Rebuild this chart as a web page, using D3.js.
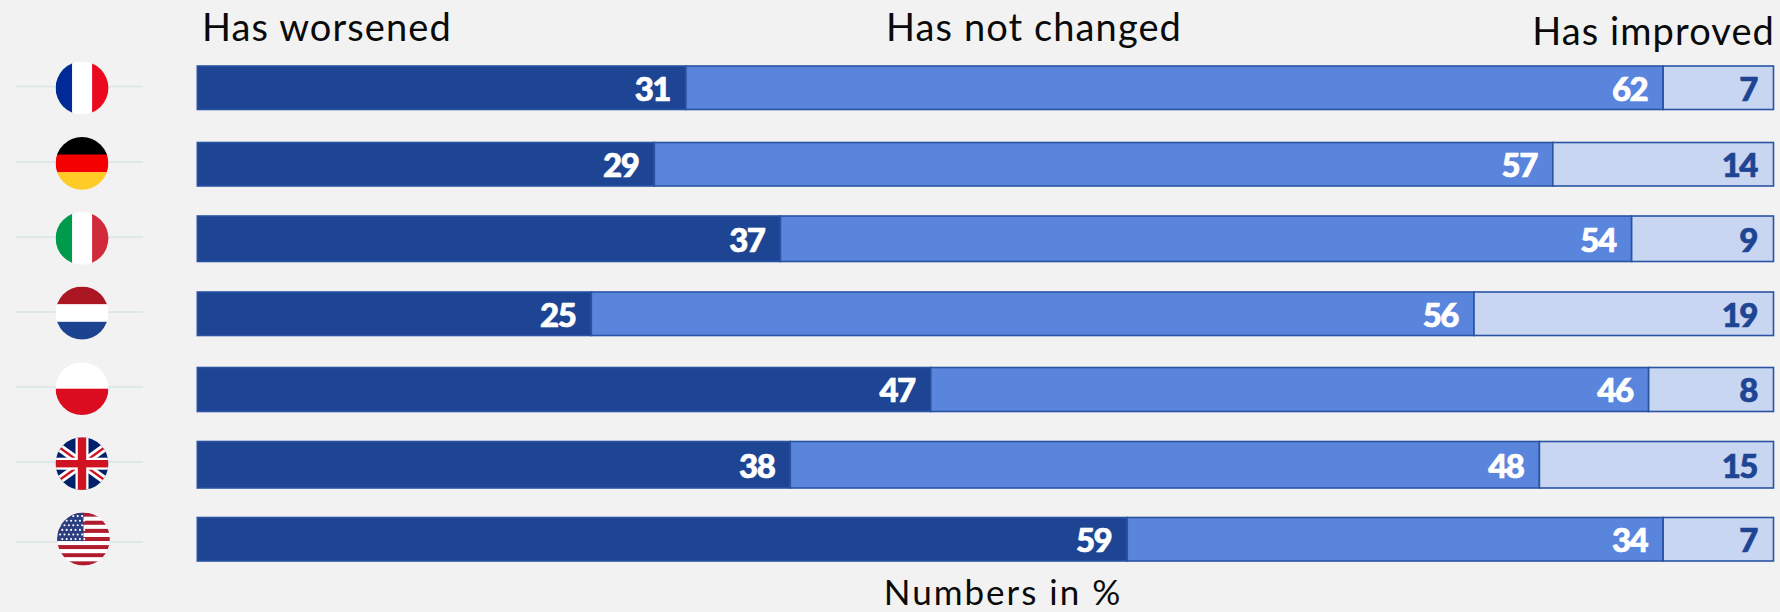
<!DOCTYPE html>
<html><head><meta charset="utf-8">
<style>html,body{margin:0;padding:0;background:#f2f2f2}svg{display:block}</style>
<script src="https://cdn.jsdelivr.net/npm/d3@7"></script></head>
<body><svg id="c" width="1780" height="612"></svg>
<script>
const countries=["France","Germany","Italy","Netherlands","Poland","United Kingdom","United States"];
const seriesNames=["Has worsened","Has not changed","Has improved"];
const worsened=[31,29,37,25,47,38,59];
const unchanged=[62,57,54,56,46,48,34];
const improved=[7,14,9,19,8,15,7];
const footnote="Numbers in %";
const fills=["#1e4593","#5a85dc","#c8d6f2"];
const labelFill=["#fff","#fff","#1e4593"];

const svg=d3.select("#c");
const rows=countries.map((c,i)=>({country:c,[seriesNames[0]]:worsened[i],[seriesNames[1]]:unchanged[i],[seriesNames[2]]:improved[i]}));
const stack=d3.stack().keys(seriesNames).offset(d3.stackOffsetExpand)(rows);
const x=d3.scaleLinear().domain([0,1]).range([197.3,1773.5]);
const yTop=d3.scaleOrdinal(countries,[66,142.5,216,292,367.5,441.5,517.5]);
const barH=d3.scaleOrdinal(countries,[43.5,43.5,45.5,43.5,44,46.5,43.5]);
const mid=c=>yTop(c)+barH(c)/2;
const fontBody='Lato, "Noto Sans", sans-serif';

// bars
stack.forEach((s,si)=>{
  const g=svg.append("g");
  g.selectAll("rect").data(s).join("rect")
   .attr("x",d=>x(d[0])).attr("y",d=>yTop(d.data.country))
   .attr("width",d=>x(d[1])-x(d[0])).attr("height",d=>barH(d.data.country))
   .attr("fill",fills[si]).attr("stroke","#2a53a4").attr("stroke-width",1.6);
  g.selectAll("text").data(s).join("text")
   .attr("x",d=>x(d[1])-(si===2?16.5:16)).attr("y",d=>mid(d.data.country)+1)
   .attr("dy","0.36em").attr("text-anchor","end")
   .attr("font-family",fontBody).attr("font-weight",900).attr("font-size",33)
   .attr("letter-spacing",-1.5)
   .attr("stroke",labelFill[si]).attr("stroke-width",0.7)
   .attr("fill",labelFill[si]).text(d=>d.data[seriesNames[si]]);
});

// headers
const hdr=[{t:seriesNames[0],x:202,y:40.5,a:"start"},{t:seriesNames[1],x:1034,y:40.5,a:"middle"},{t:seriesNames[2],x:1775,y:45,a:"end"}];
svg.append("g").selectAll("text").data(hdr).join("text")
 .attr("x",d=>d.x).attr("y",d=>d.y).attr("text-anchor",d=>d.a)
 .attr("font-family",fontBody).attr("font-size",38).attr("letter-spacing",1.1).attr("fill","#0a0a0a").text(d=>d.t);
svg.append("text").attr("x",1003).attr("y",604.5).attr("text-anchor","middle")
 .attr("font-family",fontBody).attr("font-size",35).attr("letter-spacing",2).attr("fill","#0a0a0a").text(footnote);

// flags
const R=26.4,flagX=82,lineY=[86.5,162,237,312,387,462,542],flagY=[88,163.3,238.3,313,388.7,463.7,539];
const defs=svg.append("defs");
function hStripes(g,cols){cols.forEach((c,i)=>g.append("rect").attr("x",-R).attr("width",2*R).attr("y",-R+2*R*i/cols.length).attr("height",2*R/cols.length+.5).attr("fill",c));}
function vStripes(g,cols,w){let a=-R;cols.forEach((c,i)=>{g.append("rect").attr("y",-R).attr("height",2*R).attr("x",a).attr("width",w[i]+.5).attr("fill",c);a+=w[i];});}
const draw={
 "France":g=>vStripes(g,["#002b96","#fff","#e90a1f"],[16.5,20,16.5]),
 "Germany":g=>hStripes(g,["#000","#f50000","#ffcb27"]),
 "Italy":g=>vStripes(g,["#009a4c","#fff","#d12a3a"],[16.5,20,16.5]),
 "Netherlands":g=>hStripes(g,["#aa1722","#fff","#1b4390"]),
 "Poland":g=>hStripes(g,["#fff","#dc0c20"]),
 "United Kingdom":g=>{
  g.append("rect").attr("x",-R).attr("y",-R).attr("width",2*R).attr("height",2*R).attr("fill","#00206b");
  [[-R,-R*.72,R,R*.72],[-R,R*.72,R,-R*.72]].forEach(l=>{
   g.append("line").attr("x1",l[0]).attr("y1",l[1]).attr("x2",l[2]).attr("y2",l[3]).attr("stroke","#fff").attr("stroke-width",8);
   g.append("line").attr("x1",l[0]).attr("y1",l[1]).attr("x2",l[2]).attr("y2",l[3]).attr("stroke","#cf1322").attr("stroke-width",2.4);
  });
  g.append("rect").attr("x",-R).attr("y",-6).attr("width",2*R).attr("height",12).attr("fill","#fff");
  g.append("rect").attr("x",-6.5).attr("y",-R).attr("width",13).attr("height",2*R).attr("fill","#fff");
  g.append("rect").attr("x",-R).attr("y",-3.7).attr("width",2*R).attr("height",7.4).attr("fill","#cf1322");
  g.append("rect").attr("x",-4.2).attr("y",-R).attr("width",8.4).attr("height",2*R).attr("fill","#cf1322");
 },
 "United States":g=>{
  const n=13,h=2*R/n;
  d3.range(n).forEach(i=>g.append("rect").attr("x",-R).attr("y",-R+i*h).attr("width",2*R).attr("height",h+.3).attr("fill",i%2?"#fff":"#b01c2e"));
  g.append("rect").attr("x",-R).attr("y",-R).attr("width",R).attr("height",h*7).attr("fill","#2c3e80");
  d3.range(6).forEach(r=>d3.range(6).forEach(c=>g.append("circle").attr("cx",-R+3+c*4.4+(r%2?2.2:0)).attr("cy",-R+3.5+r*4.6).attr("r",1.05).attr("fill","#fff")));
 }
};
countries.forEach((c,i)=>{
 svg.append("line").attr("x1",16).attr("x2",143).attr("y1",lineY[i]).attr("y2",lineY[i]).attr("stroke","#d8e5e6").attr("stroke-width",1.6);
 defs.append("clipPath").attr("id","clip"+i).append("circle").attr("r",R);
 const fx=i===6?flagX+1.5:flagX;
 const g=svg.append("g").attr("transform",`translate(${fx},${flagY[i]})`).attr("clip-path",`url(#clip${i})`);
 draw[c](g);
});
</script></body></html>
